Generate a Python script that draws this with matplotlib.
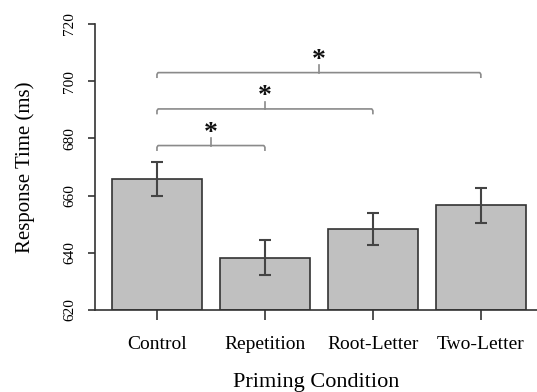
import matplotlib
matplotlib.use("Agg")
import matplotlib.pyplot as plt
import numpy as np

# data
conditions = ["Control", "Repetition", "Root-Letter", "Two-Letter"]
mean_rt = [665.7, 638.3, 648.3, 656.6]
se_rt = [6.0, 6.2, 5.6, 6.2]

# significance comparisons: (from index, to index, bracket height)
cmp_from = [0, 0, 0]
cmp_to = [1, 2, 3]
cmp_level = [677.5, 690.3, 703.0]
cmp_label = ["*", "*", "*"]

plt.rcParams['font.family'] = ['Liberation Serif', 'DejaVu Serif']

fig = plt.figure(figsize=(5.37, 3.92), dpi=100)
ax = fig.add_axes([95 / 537, 82 / 392, 442 / 537, 286 / 392])

x = np.arange(len(conditions))
ax.bar(x, np.array(mean_rt) - 620, bottom=620, width=0.83,
       color="#c0c0c0", edgecolor="#333333", linewidth=1.2, zorder=2)
ax.errorbar(x, mean_rt, yerr=se_rt, fmt="none", ecolor="#444444",
            elinewidth=1.5, capsize=4.3, capthick=1.5, zorder=3)

# brackets with stars
gray = "#8a8a8a"
for a, b, lev, lab in zip(cmp_from, cmp_to, cmp_level, cmp_label):
    xa, xb = x[a], x[b]
    ax.plot([xa, xa, xa + 0.01, xb - 0.01, xb, xb],
            [lev - 1.6, lev - 0.6, lev, lev, lev - 0.6, lev - 1.6],
            color=gray, lw=1.2, zorder=4, clip_on=False)
    xm = (xa + xb) / 2
    ax.plot([xm, xm], [lev, lev + 2.6], color=gray, lw=1.2, zorder=4)
    ax.text(xm, lev + 2.0, lab, ha="center", va="baseline", fontsize=20,
            fontweight="bold", color="#111111")

ax.set_xlim(-0.574, 3.52)
ax.set_ylim(620, 720)
ax.set_yticks([620, 640, 660, 680, 700, 720])
ax.set_xticks(x)
ax.set_xticklabels(conditions, fontsize=14)
for t in ax.get_yticklabels():
    t.set_rotation(90)
    t.set_va("center")
    t.set_fontsize(11)

ax.spines["top"].set_visible(False)
ax.spines["right"].set_visible(False)
for s in ["left", "bottom"]:
    ax.spines[s].set_color("#333333")
    ax.spines[s].set_linewidth(1.2)
ax.tick_params(axis="y", length=5, width=1.2, color="#333333", pad=8.5)
ax.tick_params(axis="x", length=7, width=1.2, color="#333333", pad=12)

ax.set_ylabel("Response Time (ms)", fontsize=15, labelpad=20)
ax.set_xlabel("Priming Condition", fontsize=16, labelpad=14)

fig.savefig("out.png", dpi=100)
